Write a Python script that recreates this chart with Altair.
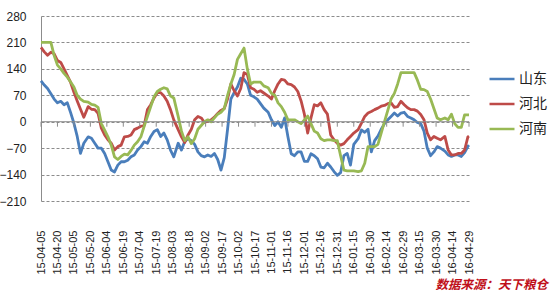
import altair as alt
import pandas as pd

# ---------------- data ----------------
tick_labels = ["15-04-05", "15-04-20", "15-05-05", "15-05-20", "15-06-04", "15-06-19",
               "15-07-04", "15-07-19", "15-08-03", "15-08-18", "15-09-02", "15-09-17",
               "15-10-02", "15-10-17", "15-11-01", "15-11-16", "15-12-01", "15-12-16",
               "15-12-31", "16-01-15", "16-01-30", "16-02-14", "16-02-29", "16-03-15",
               "16-03-30", "16-04-14", "16-04-29"]

# day offsets from 2015-04-05 of each sample
days = [0, 3, 6, 9, 12, 15, 18, 21, 24, 27, 30, 33, 36, 39, 43, 46, 49, 52, 55, 58,
        61, 64, 67, 70, 73, 76, 79, 82, 85, 88, 91, 94, 97, 100, 103, 106, 109, 112, 115, 118,
        121, 125, 128,
        131, 134, 137, 140, 143, 146, 149, 152, 155, 158, 161, 164, 167, 170, 173, 176, 179, 182, 185, 188,
        191, 194, 197, 200, 203, 207, 210, 213, 216, 219, 222, 225, 228, 231, 234, 237, 240, 243, 246, 249,
        252, 255, 258,
        261, 264, 267, 270, 273, 276, 279, 282, 285, 289, 292, 295, 298, 301, 304, 307, 310, 313, 316, 319,
        322, 325, 328, 331, 334, 337, 340, 343, 346, 349, 352, 355, 358, 361, 364, 368, 371, 374, 377, 380,
        383, 386, 389, 390]

shandong = [108, 97, 88, 74, 60, 50, 54, 45, 50, 24, -4, -39, -84, -57, -40, -44, -57, -70, -70, -84,
            -106, -128, -133, -115, -106, -106, -102, -93, -88, -75, -66, -53, -57, -39, -26, -21, -39, -30, -48, -75,
            -93, -57, -75,
            -52, -45, -50, -60, -80, -90, -93, -88, -92, -84, -100, -128, -95, -20, 60, 77, 92, 115, 112, 100,
            70, 66, 60, 48, 36, 25, 5, -10, 0, -15, 10, -40, -85, -90, -80, -80, -105, -105, -85, -90,
            -98, -120, -122,
            -110, -120, -132, -142, -135, -90, -84, -115, -60, -45, -22, -28, -20, -80, -50, -38, -20, -5, 5, 14,
            23, 15, 23, 25, 14, 10, 5, -2, -5, -25, -70, -90, -80, -66, -70, -78, -88, -92, -88, -88,
            -92, -82, -65, -62]

hebei = [197, 185, 176, 184, 180, 162, 157, 140, 122, 104, 78, 55, 33, 12, 40, 33, 32, 22, -17, -35,
         -48, -57, -75, -66, -62, -40, -39, -35, -21, -17, -12, -10, 32, 45, 63, 77, 77, 68, 54, 32,
         5, -21, -40,
         -55, -35, -20, 5, 14, 10, -2, 2, 5, 12, 22, 30, 35, 60, 100, 82, 68, 88, 130, 125,
         90, 86, 78, 82, 76, 68, 60, 82, 100, 112, 110, 100, 98, 92, 80, 55, 20, -30, 10, 45,
         42, 50, 32,
         20, -35, -48, -57, -62, -58, -48, -39, -30, -21, -4, 14, 23, 27, 32, 36, 41, 43, 48, 50,
         38, 40, 54, 45, 37, 32, 32, 28, 19, 5, -30, -48, -39, -44, -48, -39, -75, -88, -88, -84,
         -84, -75, -40, -38]

henan = [210, 210, 210, 210, 175, 150, 140, 128, 118, 105, 92, 70, 60, 54, 52, 46, 44, 38, -5, -22,
         -40, -62, -93, -100, -92, -86, -88, -76, -62, -53, -40, -12, 14, 40, 66, 80, 86, 90, 87, 68,
         63, 14, -25,
         -50, -40, -58, -45, -20, -10, 0, 5, 0, 10, 20, 25, 35, 70, 100, 125, 165, 180, 195, 140,
         100, 105, 105, 105, 95, 90, 75, 70, 50, 40, 25, 5, 5, 5, 0, -5, 5, 15, -5, -25,
         -30, -45, -50,
         -48, -48, -50, -50, -90, -128, -130, -130, -130, -132, -130, -110, -66, -66, -66, -60, -30, 0, 30, 60,
         75, 100, 130, 130, 130, 130, 130, 110, 86, 85, 80, 60, 35, 10, 5, 10, 5, 20, -5, -15,
         -15, 18, 18, 18]

series_names = ["山东", "河北", "河南"]
series_colors = ["#4a7ebb", "#be4b48", "#98b954"]
y_ticks = [-210, -140, -70, 0, 70, 140, 210, 280]
source_text = "数据来源：天下粮仓"

# ---------------- tables ----------------
start = pd.Timestamp("2015-04-05")
dates = start + pd.to_timedelta(days, unit="D")
df = pd.concat(
    [pd.DataFrame({"date": dates, "value": vals, "series": name})
     for name, vals in zip(series_names, [shandong, hebei, henan])],
    ignore_index=True,
)
tick_dates = pd.to_datetime(["20" + t for t in tick_labels])
ticks_df = pd.DataFrame({"date": tick_dates, "value": [0] * len(tick_dates)})
zero_df = pd.DataFrame({"date": [tick_dates[0], tick_dates[-1]], "value": [0, 0]})
tick_vals = [alt.DateTime(year=int(d.year), month=int(d.month), date=int(d.day)) for d in tick_dates]
x_domain = [tick_vals[0], tick_vals[-1]]

AX = "#8c8c8c"
FONT = "Liberation Sans"
CJK = "Noto Sans CJK SC"

x_enc = alt.X("date:T", scale=alt.Scale(domain=x_domain),
              axis=alt.Axis(values=tick_vals, format="%y-%m-%d", labelAngle=-90,
                            labelFont=FONT, labelFontSize=11, labelColor="#222222",
                            ticks=False, domain=False, grid=False, labelPadding=29,
                            title=None, labelOverlap=False, labelBound=False, labelFlush=False))
y_enc = alt.Y("value:Q", scale=alt.Scale(domain=[-210, 280], nice=False, zero=False),
              axis=alt.Axis(values=y_ticks, grid=True, gridDash=[3, 2], gridColor=AX,
                            gridWidth=1, domain=True, domainColor=AX, ticks=False,
                            labelPadding=15, labelFont=FONT, labelFontSize=12,
                            labelColor="#222222", title=None, labelOverlap=False,
                            labelBound=False, labelFlush=False))

lines = alt.Chart(df).mark_line(strokeWidth=2.8, strokeJoin="round").encode(
    x=x_enc,
    y=y_enc,
    color=alt.Color("series:N", sort=series_names,
                    scale=alt.Scale(domain=series_names, range=series_colors),
                    legend=alt.Legend(title=None, orient="none", legendX=447, legendY=49,
                                      symbolType="stroke", symbolSize=625, symbolStrokeWidth=2.5,
                                      labelFont=CJK, labelFontSize=14, labelColor="#222222",
                                      labelOffset=3, rowPadding=4)),
)

zero_rule = alt.Chart(zero_df).mark_line(color=AX, strokeWidth=1).encode(x=x_enc, y=y_enc)

tick_marks = alt.Chart(ticks_df).mark_rule(color=AX, strokeWidth=1, y2Offset=5).encode(
    x=x_enc, y=y_enc, y2=alt.Y2("value")
)

source = alt.Chart(pd.DataFrame({"t": [source_text]})).mark_text(
    align="right", baseline="middle", font=CJK, fontSize=12.5, fontStyle="italic",
    fontWeight="bold", color="#c0101a"
).encode(text="t:N", x=alt.value(507), y=alt.value(269))

chart = alt.layer(lines, zero_rule, tick_marks, source).properties(
    width=428, height=185,
    padding={"left": 41, "top": 16, "right": 81, "bottom": 99},
    autosize=alt.AutoSizeParams(type="none"),
    background="white",
).configure_view(stroke=None).configure_axis(labelOverlap=False)

chart.save("out.html", embed_options={"renderer": "svg", "actions": False})
